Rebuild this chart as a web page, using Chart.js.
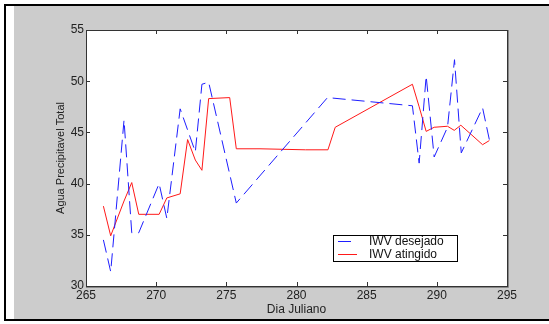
<!DOCTYPE html>
<html><head><meta charset="utf-8">
<script src="https://cdn.jsdelivr.net/npm/chart.js@4"></script>
<style>html,body{margin:0;padding:0;background:#fff;overflow:hidden}</style>
</head><body>
<canvas id="c" width="549" height="324"></canvas>
<script>
// ---- data ----
const desejadoDays = [266.24, 266.76, 267.71, 268.26, 268.76, 270.21, 270.76, 271.71, 272.79, 273.26, 273.74, 275.71, 282.21, 288.26, 288.74, 289.24, 289.81, 290.76, 291.26, 291.74, 293.26, 293.74];
const desejadoValues = [34.5, 31.4, 46.2, 35.2, 35.2, 40.0, 36.6, 47.3, 43.1, 49.7, 49.9, 38.1, 48.4, 47.6, 42.0, 50.5, 42.6, 45.5, 52.1, 43.0, 47.4, 44.3];
const atingidoDays = [266.24, 266.76, 267.71, 268.26, 268.76, 270.21, 270.76, 271.71, 272.24, 272.79, 273.26, 273.74, 275.24, 275.71, 277.4, 280.64, 282.24, 282.76, 288.26, 288.74, 289.24, 289.81, 290.76, 291.24, 291.71, 293.26, 293.74];
const atingidoValues = [37.8, 34.9, 38.3, 40.1, 37.0, 37.0, 38.6, 39.0, 44.3, 42.3, 41.3, 48.3, 48.4, 43.4, 43.4, 43.3, 43.3, 45.5, 49.7, 47.5, 45.1, 45.5, 45.6, 45.2, 45.7, 43.8, 44.2];
const xTicks = [265, 270, 275, 280, 285, 290, 295];
const yTicks = [30, 35, 40, 45, 50, 55];
const seriesLabels = ['IWV desejado', 'IWV atingido'];
const xTitle = 'Dia Juliano';
const yTitle = 'Agua Precipitavel Total';

const BLUE = 'rgb(30,30,255)';
const RED = 'rgb(255,25,25)';
const DASH = [13, 6];
const FONT = 'Liberation Sans, Arial, sans-serif';

const frame = {
  id: 'frame',
  beforeDraw(chart) {
    const ctx = chart.ctx, a = chart.chartArea;
    ctx.save();
    ctx.fillStyle = '#fff'; ctx.fillRect(0, 0, 549, 324);
    ctx.fillStyle = '#cccccc'; ctx.fillRect(14, 6, 535, 313);
    ctx.fillStyle = '#000';
    ctx.fillRect(4, 4, 545, 2);
    ctx.fillRect(4, 4, 2, 317);
    ctx.fillRect(4, 319, 545, 2);
    ctx.fillStyle = '#fff'; ctx.fillRect(a.left, a.top, a.right - a.left, a.bottom - a.top);
    ctx.restore();
  },
  afterDraw(chart) {
    const ctx = chart.ctx, a = chart.chartArea;
    const xs = chart.scales.x, ys = chart.scales.y;
    ctx.save();
    // plot border
    ctx.strokeStyle = '#888'; ctx.lineWidth = 1;
    ctx.beginPath();
    ctx.moveTo(a.right + 1.5, a.top); ctx.lineTo(a.right + 1.5, a.bottom + 1.5); ctx.lineTo(a.left, a.bottom + 1.5);
    ctx.stroke();
    ctx.strokeStyle = '#333';
    ctx.strokeRect(a.left + 0.5, a.top + 0.5, a.right - a.left, a.bottom - a.top);
    // inward ticks
    ctx.beginPath();
    xTicks.forEach(v => {
      const x = Math.round(xs.getPixelForValue(v)) + 0.5;
      ctx.moveTo(x, a.bottom); ctx.lineTo(x, a.bottom - 4);
      ctx.moveTo(x, a.top); ctx.lineTo(x, a.top + 4);
    });
    yTicks.forEach(v => {
      const y = Math.round(ys.getPixelForValue(v)) + 0.5;
      ctx.moveTo(a.left, y); ctx.lineTo(a.left + 4, y);
      ctx.moveTo(a.right, y); ctx.lineTo(a.right - 4, y);
    });
    ctx.stroke();
    // legend
    const lx = 333, ly = 235, lw = 124, lh = 26;
    ctx.fillStyle = '#fff'; ctx.fillRect(lx, ly, lw, lh);
    ctx.strokeStyle = '#000'; ctx.lineWidth = 1;
    ctx.strokeRect(lx + 0.5, ly + 0.5, lw, lh);
    ctx.font = '12px ' + FONT; ctx.textBaseline = 'middle'; ctx.fillStyle = '#111';
    chart.data.datasets.forEach((ds, i) => {
      const y = ly + 6.5 + i * 13;
      ctx.strokeStyle = ds.borderColor; ctx.setLineDash(ds.borderDash || []);
      ctx.beginPath(); ctx.moveTo(lx + 5, y); ctx.lineTo(lx + 24, y); ctx.stroke();
      ctx.setLineDash([]);
      ctx.fillText(ds.label, lx + 36, y);
    });
    ctx.restore();
  }
};

new Chart(document.getElementById('c'), {
  type: 'line',
  data: {
    datasets: [
      { label: seriesLabels[0], data: desejadoDays.map((d, i) => ({ x: d, y: desejadoValues[i] })), borderColor: BLUE, borderWidth: 1, borderDash: DASH, pointRadius: 0, tension: 0, fill: false },
      { label: seriesLabels[1], data: atingidoDays.map((d, i) => ({ x: d, y: atingidoValues[i] })), borderColor: RED, borderWidth: 1, pointRadius: 0, tension: 0, fill: false }
    ]
  },
  options: {
    responsive: false, animation: false, devicePixelRatio: 1,
    layout: { padding: { left: 0, top: 30, right: 42, bottom: 0 } },
    plugins: { legend: { display: false }, tooltip: { enabled: false } },
    scales: {
      x: {
        type: 'linear', min: 265, max: 295,
        afterBuildTicks: s => { s.ticks = xTicks.map(v => ({ value: v })); },
        afterFit: s => { s.height = 38; },
        grid: { display: false, tickLength: 0 }, border: { display: false },
        ticks: { padding: 2, color: '#222', font: { family: FONT, size: 12 }, maxRotation: 0 },
        title: { display: true, text: xTitle, color: '#222', font: { family: FONT, size: 12 }, padding: { top: 0, bottom: 7 } }
      },
      y: {
        type: 'linear', min: 30, max: 55,
        afterBuildTicks: s => { s.ticks = yTicks.map(v => ({ value: v })); },
        afterFit: s => { s.width = 86; },
        grid: { display: false, tickLength: 0 }, border: { display: false },
        ticks: { padding: 2, color: '#222', font: { family: FONT, size: 12 } },
        title: { display: true, text: yTitle, color: '#222', font: { family: FONT, size: 11 }, padding: { top: 54, bottom: 0 } }
      }
    }
  },
  plugins: [frame]
});
</script>
</body></html>
